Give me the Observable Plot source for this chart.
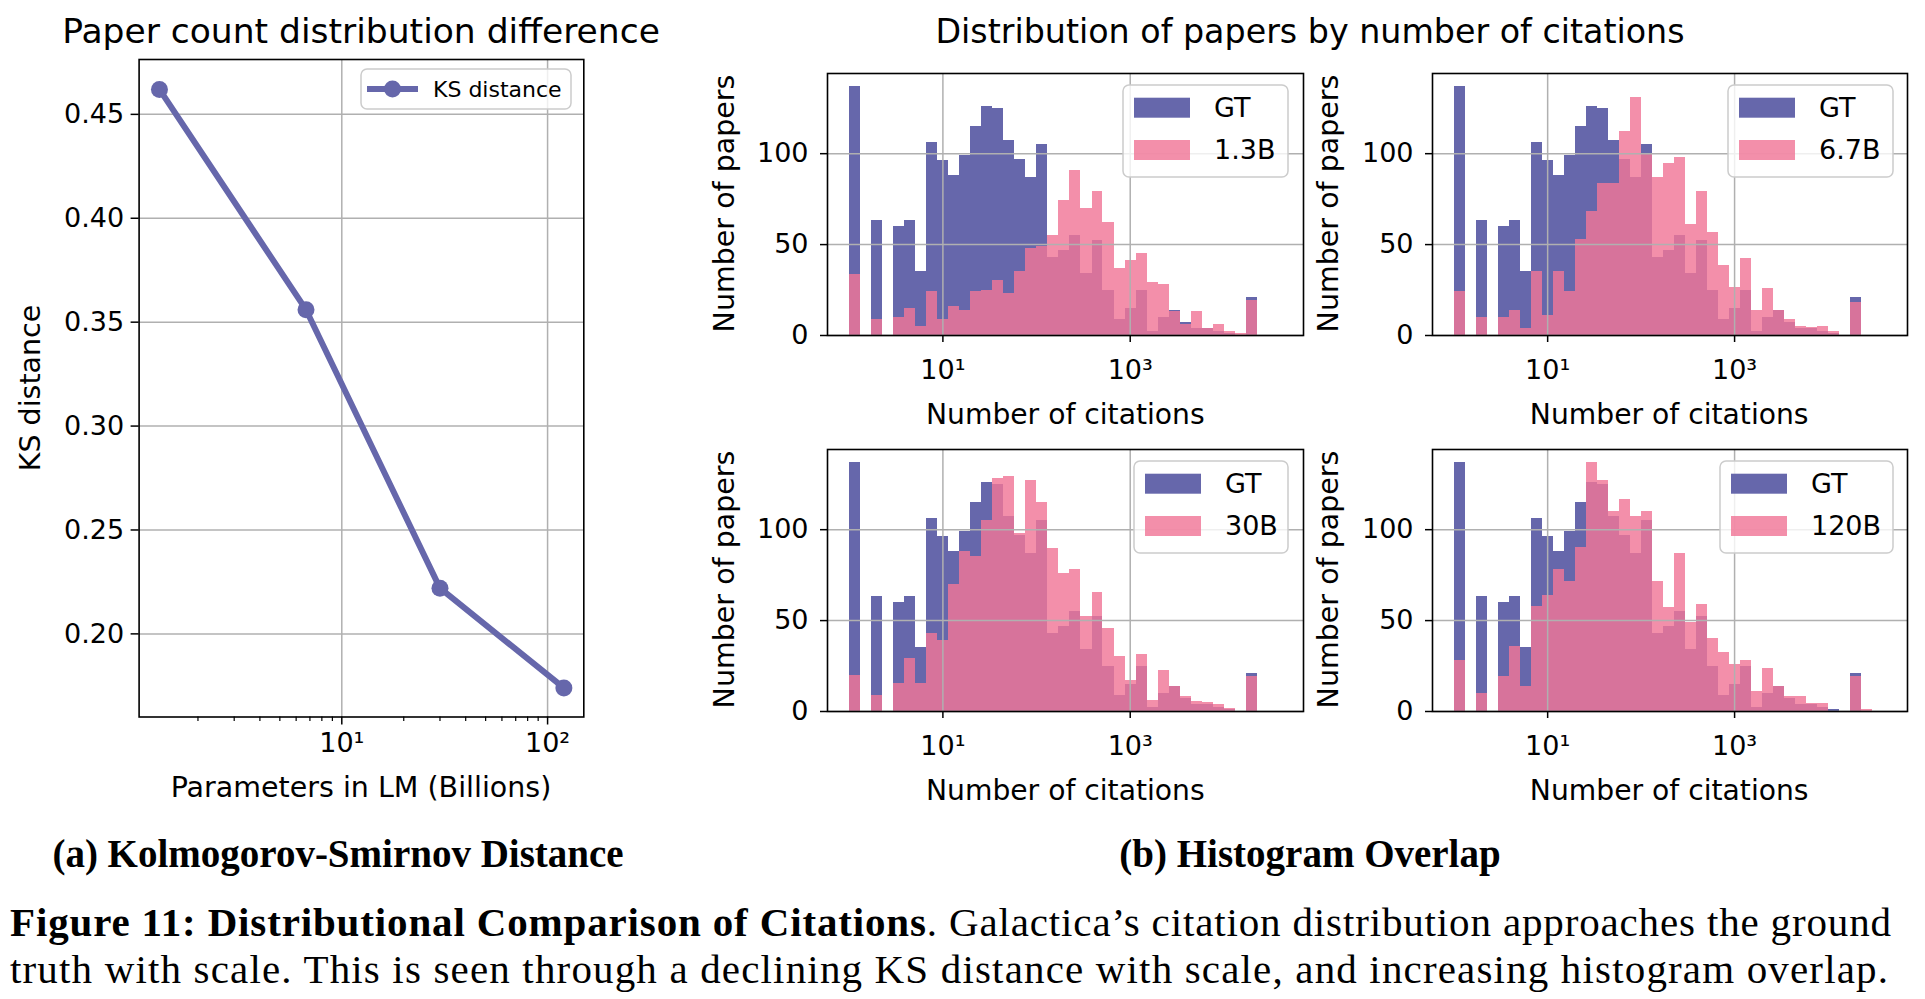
<!DOCTYPE html>
<html>
<head>
<meta charset="utf-8">
<script src="https://cdn.jsdelivr.net/npm/d3@7"></script>
<script src="https://cdn.jsdelivr.net/npm/@observablehq/plot@0.6"></script>
<style>
  html, body { margin: 0; padding: 0; background: #fff; }
  #page { position: relative; width: 1925px; height: 999px; overflow: hidden; background: #fff; }
  #page > svg { position: absolute; }
</style>
</head>
<body>
<div id="page"></div>
<script>
// ---------- colours ----------
const BLUE = "#6667ab";
const PINK = "#f07697";
const PINK_ALPHA = 0.82;
const GRID = "#b0b0b0";

// ---------- (a) KS distance ----------
const ksParams = [1.3, 6.7, 30, 120];          // billions of parameters
const ksDistance = [0.462, 0.356, 0.222, 0.174];
const ksYTicks = [0.20, 0.25, 0.30, 0.35, 0.40, 0.45];
const ksXTicks = [10, 100];
const ksXTickLabels = ["10\u00b9", "10\u00b2"];
const ksXMinorTicks = [2, 3, 4, 5, 6, 7, 8, 9, 20, 30, 40, 50, 60, 70, 80, 90];

// ---------- (b) histograms (log10 bin edges of citation counts) ----------
const binLogEdges = [0.000, 0.118, 0.236, 0.353, 0.471, 0.589, 0.707, 0.825, 0.942, 1.060,
                     1.178, 1.296, 1.414, 1.531, 1.649, 1.767, 1.885, 2.003, 2.120, 2.238,
                     2.356, 2.474, 2.592, 2.709, 2.827, 2.945, 3.063, 3.181, 3.298, 3.416,
                     3.534, 3.652, 3.770, 3.887, 4.005, 4.123, 4.241, 4.359, 4.476, 4.594];
const gtCounts   = [137, 0, 63, 0, 60, 63, 35, 106, 96, 88, 99, 115, 126, 125, 107, 97, 87, 105, 43, 47,
                    55, 34, 52, 25, 9, 15, 25, 2, 10, 14, 7, 4, 4, 2, 1, 0, 21, 0, 0];
const counts13B  = [33.5, 0, 9, 0, 10, 15, 5, 24, 9, 16, 14, 24, 25, 30, 23, 35, 48, 49, 55, 74,
                    91, 70, 79, 62, 37, 41, 45, 29, 28, 13, 6, 13, 4, 6, 2, 1, 19.5, 0, 0];
const counts67B  = [24, 0, 10, 0, 10, 14, 4, 35, 11, 35, 24, 53, 68, 83.5, 83.5, 112, 131, 100, 87, 94.5,
                    98, 61, 79, 56.5, 38.5, 26.5, 42.5, 13.6, 25.6, 13.6, 9, 5, 4.4, 5, 2.4, 0, 18, 0, 0];
const counts30B  = [20, 0, 9, 0, 15.5, 29, 15.5, 43, 39, 70, 88, 85, 105, 128, 129, 98, 127, 115, 89.5, 76,
                    78, 52.4, 65.6, 45.8, 30, 17, 31.3, 6, 22.4, 13.6, 8, 5.5, 5, 4, 1.7, 0, 19, 0, 0];
const counts120B = [28, 0, 10, 0, 19, 36, 13.6, 58, 64, 78, 71.5, 90, 137, 127, 110, 116.5, 107, 110, 71.5, 57,
                    87, 49, 59, 40.4, 32.5, 25.6, 28, 11, 23.7, 13.8, 8.3, 8.3, 4.6, 4.6, 0, 0, 19, 1.3, 0];
const modelNames = ["1.3B", "6.7B", "30B", "120B"];
const histYTicks = [0, 50, 100];
const histXTicks = [10, 1000];
const histXTickLabels = ["10\u00b9", "10\u00b3"];

// ---------- texts ----------
const leftTitle = "Paper count distribution difference";
const rightTitle = "Distribution of papers by number of citations";
const ksYLabel = "KS distance";
const ksXLabel = "Parameters in LM (Billions)";
const ksLegend = "KS distance";
const histYLabel = "Number of papers";
const histXLabel = "Number of citations";
const gtLabel = "GT";
const subA = "(a) Kolmogorov-Smirnov Distance";
const subB = "(b) Histogram Overlap";
const capBold = "Figure 11: Distributional Comparison of Citations";
const capLine1 = ". Galactica\u2019s citation distribution approaches the ground";
const capLine2 = "truth with scale. This is seen through a declining KS distance with scale, and increasing histogram overlap.";

const page = document.getElementById("page");
const NS = "http://www.w3.org/2000/svg";

function place(svg, left, top) {
  svg.style.left = left + "px";
  svg.style.top = top + "px";
  page.appendChild(svg);
}

// ---------- left chart ----------
const ksRows = ksParams.map((p, i) => ({p, d: ksDistance[i]}));
const LF = {x0: 138.6, x1: 583.3, y0: 59, y1: 716.5};
const LW = 640, LH = 800;
const leftSvg = Plot.plot({
  width: LW, height: LH,
  marginLeft: LF.x0, marginRight: LW - LF.x1, marginTop: LF.y0, marginBottom: LH - LF.y1,
  style: {fontFamily: "DejaVu Sans", fontSize: "27px", color: "#000", background: "none", overflow: "visible"},
  x: {type: "log", domain: [Math.pow(10, 0.015), Math.pow(10, 2.176)], label: null},
  y: {domain: [0.16, 0.4764], label: null},
  marks: [
    Plot.gridX(ksXTicks, {stroke: GRID, strokeOpacity: 1, strokeWidth: 1.5}),
    Plot.gridY(ksYTicks, {stroke: GRID, strokeOpacity: 1, strokeWidth: 1.5}),
    Plot.line(ksRows, {x: "p", y: "d", stroke: BLUE, strokeWidth: 6}),
    Plot.dot(ksRows, {x: "p", y: "d", r: 8.5, fill: BLUE, stroke: "none"}),
    Plot.frame({stroke: "#000", strokeWidth: 1.6}),
    Plot.axisX(ksXTicks, {tickFormat: d => ksXTickLabels[ksXTicks.indexOf(d)], tickSize: 8, tickPadding: 8, strokeWidth: 1.5, label: null}),
    Plot.axisX(ksXMinorTicks, {tickFormat: () => "", tickSize: 4.5, strokeWidth: 1.2, label: null}),
    Plot.axisY(ksYTicks, {tickFormat: d3.format(".2f"), tickSize: 8, tickPadding: 7, strokeWidth: 1.5, label: null})
  ]
});
place(leftSvg, 0, 0);

// ---------- histogram panels ----------
function binRows(arr) {
  return arr.map((c, i) => ({x1: Math.pow(10, binLogEdges[i]), x2: Math.pow(10, binLogEdges[i + 1]), y: c}))
            .filter(d => d.y > 0);
}
const panels = [
  {name: modelNames[0], counts: counts13B,  fx: 827.3,  fy: 72.5,  fw: 476, lx: 1123, lw: 165},
  {name: modelNames[1], counts: counts67B,  fx: 1431.7, fy: 72.5,  fw: 475, lx: 1728, lw: 165},
  {name: modelNames[2], counts: counts30B,  fx: 827.3,  fy: 448.5, fw: 476, lx: 1134, lw: 154},
  {name: modelNames[3], counts: counts120B, fx: 1431.7, fy: 448.5, fw: 475, lx: 1720, lw: 173}
];
const FH = 262;
const HM = {l: 130, r: 10, t: 10, b: 80};
for (const p of panels) {
  const svg = Plot.plot({
    width: p.fw + HM.l + HM.r, height: FH + HM.t + HM.b,
    marginLeft: HM.l, marginRight: HM.r, marginTop: HM.t, marginBottom: HM.b,
    style: {fontFamily: "DejaVu Sans", fontSize: "27px", color: "#000", background: "none", overflow: "visible"},
    x: {type: "log", domain: [Math.pow(10, -0.232), Math.pow(10, 4.85)], label: null},
    y: {domain: [0, 144.1], label: null},
    marks: [
      Plot.rect(binRows(gtCounts), {x1: "x1", x2: "x2", y1: 0, y2: "y", fill: BLUE, shapeRendering: "crispEdges"}),
      Plot.rect(binRows(p.counts), {x1: "x1", x2: "x2", y1: 0, y2: "y", fill: PINK, fillOpacity: PINK_ALPHA, shapeRendering: "crispEdges"}),
      Plot.gridX(histXTicks, {stroke: GRID, strokeOpacity: 1, strokeWidth: 1.5}),
      Plot.gridY(histYTicks, {stroke: GRID, strokeOpacity: 1, strokeWidth: 1.5}),
      Plot.frame({stroke: "#000", strokeWidth: 1.6}),
      Plot.axisX(histXTicks, {tickFormat: d => histXTickLabels[histXTicks.indexOf(d)], tickSize: 7, tickPadding: 17, strokeWidth: 1.5, label: null}),
      Plot.axisY(histYTicks, {tickSize: 7, tickPadding: 12, strokeWidth: 1.5, label: null})
    ]
  });
  place(svg, p.fx - HM.l, p.fy - HM.t);
}

// ---------- overlay: titles, labels, legends, captions ----------
const ov = document.createElementNS(NS, "svg");
ov.setAttribute("width", 1925);
ov.setAttribute("height", 999);
ov.style.left = "0px"; ov.style.top = "0px";
page.appendChild(ov);

function el(tag, attrs, parent = ov) {
  const e = document.createElementNS(NS, tag);
  for (const k in attrs) e.setAttribute(k, attrs[k]);
  parent.appendChild(e);
  return e;
}
function txt(str, x, y, size, opts = {}) {
  const t = el("text", {
    x: opts.rotate ? 0 : x, y: opts.rotate ? 0 : y,
    "font-family": opts.family || "DejaVu Sans", "font-size": size,
    "text-anchor": opts.anchor || "middle", dy: opts.dy === undefined ? "0.35em" : opts.dy,
    fill: "#000"
  });
  if (opts.weight) t.setAttribute("font-weight", opts.weight);
  if (opts.rotate) t.setAttribute("transform", `translate(${x},${y}) rotate(-90)`);
  t.textContent = str;
  return t;
}

txt(leftTitle, 361, 31, 34.5);
txt(rightTitle, 1310, 31, 33.3);
txt(ksYLabel, 30.5, 388, 28.5, {rotate: true});
txt(ksXLabel, 361, 787, 28.5);

// KS legend
el("rect", {x: 361, y: 69, width: 210, height: 40, rx: 6, fill: "#fff", "fill-opacity": 0.8, stroke: "#cccccc", "stroke-width": 1.5});
el("line", {x1: 367, x2: 418, y1: 89, y2: 89, stroke: BLUE, "stroke-width": 6});
el("circle", {cx: 392.5, cy: 89, r: 8.5, fill: BLUE});
txt(ksLegend, 433, 89, 22, {anchor: "start"});

for (const p of panels) {
  const cx = p.fx + p.fw / 2;
  txt(histYLabel, p.fx - 103.5, p.fy + FH / 2, 28.5, {rotate: true});
  txt(histXLabel, cx, p.fy + FH + 80, 28.2);
  const ly = p.fy + 12.5;
  el("rect", {x: p.lx, y: ly, width: p.lw, height: 92, rx: 6, fill: "#fff", "fill-opacity": 0.8, stroke: "#cccccc", "stroke-width": 1.5});
  el("rect", {x: p.lx + 11, y: ly + 12.7, width: 56, height: 20, fill: BLUE});
  el("rect", {x: p.lx + 11, y: ly + 55, width: 56, height: 20, fill: PINK, "fill-opacity": PINK_ALPHA});
  txt(gtLabel, p.lx + 91, ly + 22.7, 27, {anchor: "start"});
  txt(p.name, p.lx + 91, ly + 65, 27, {anchor: "start"});
}

// sub captions
txt(subA, 338, 867, 39, {family: "Liberation Serif", weight: "bold", dy: 0});
txt(subB, 1310, 867, 39, {family: "Liberation Serif", weight: "bold", dy: 0});

// figure caption
const c1 = el("text", {x: 10, y: 936, "font-family": "Liberation Serif", "font-size": 41, textLength: 1881, lengthAdjust: "spacing", fill: "#000"});
const b = el("tspan", {"font-weight": "bold"}, c1); b.textContent = capBold;
const r = el("tspan", {}, c1); r.textContent = capLine1;
const c2 = el("text", {x: 10, y: 983, "font-family": "Liberation Serif", "font-size": 41, textLength: 1878, lengthAdjust: "spacing", fill: "#000"});
c2.textContent = capLine2;
</script>
</body>
</html>
